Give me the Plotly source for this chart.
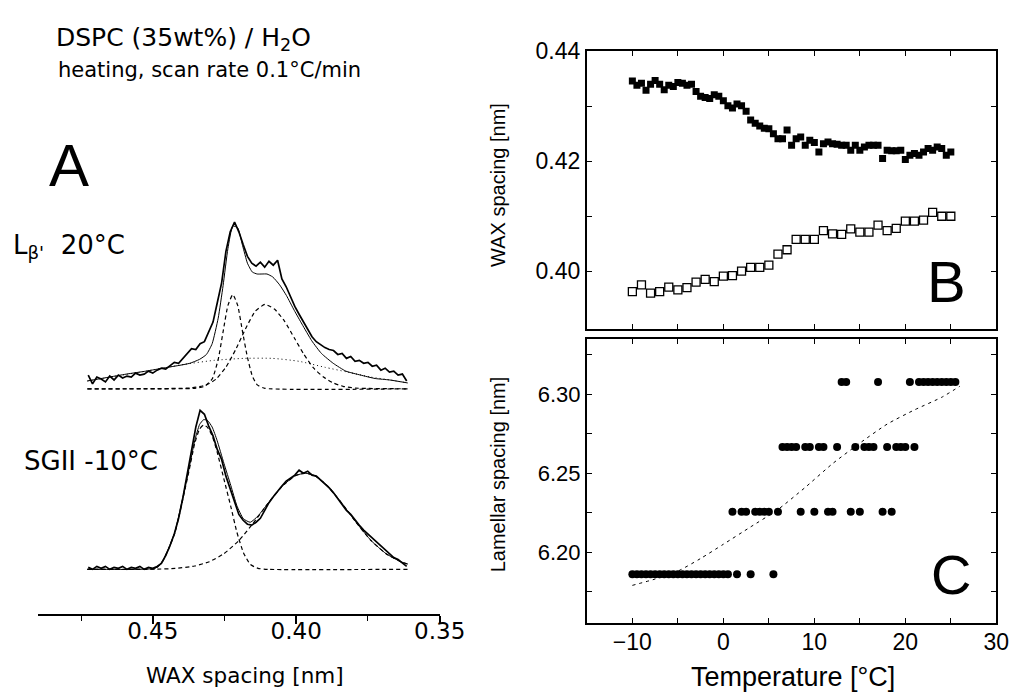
import plotly.graph_objects as go

W, H = 1035, 692

# ---------------- Panel A : WAX profiles (intensity in arbitrary units) ----------------
wax_nm = [0.4725, 0.4710, 0.4695, 0.4680, 0.4665, 0.4650, 0.4635, 0.4620, 0.4605, 0.4590,
          0.4575, 0.4560, 0.4545, 0.4530, 0.4515, 0.4500, 0.4485, 0.4470, 0.4455, 0.4440,
          0.4425, 0.4410, 0.4395, 0.4380, 0.4365, 0.4350, 0.4335, 0.4320, 0.4305, 0.4290,
          0.4275, 0.4260, 0.4245, 0.4230, 0.4215, 0.4200, 0.4185, 0.4170, 0.4155, 0.4140,
          0.4125, 0.4110, 0.4095, 0.4080, 0.4065, 0.4050, 0.4035, 0.4020, 0.4005, 0.3990,
          0.3975, 0.3960, 0.3945, 0.3930, 0.3915, 0.3900, 0.3885, 0.3870, 0.3855, 0.3840,
          0.3825, 0.3810, 0.3795, 0.3780, 0.3765, 0.3750, 0.3735, 0.3720, 0.3705, 0.3690,
          0.3675, 0.3660, 0.3645, 0.3630, 0.3615]

lbeta_counts = [14, 5, 12, 10, 7, 13, 9, 14, 11, 13,
                12, 16, 14, 15, 18, 16, 19, 21, 20, 24,
                27, 26, 31, 35, 41, 40, 46, 48, 58, 68,
                88, 108, 140, 160, 170, 160, 147, 135, 128, 125,
                129, 124, 130, 126, 131, 112, 104, 93, 84, 76,
                68, 61, 53, 48, 45, 42, 40, 39, 35, 36,
                31, 33, 28, 29, 26, 27, 23, 24, 19, 21,
                17, 18, 14, 15, 8]

sgii_counts = [2, 0, 3, 1, 3, 0, 2, 1, 3, 0,
               2, 1, 3, 0, 2, 1, 3, 6, 14, 24,
               36, 52, 73, 96, 120, 145, 162, 158, 146, 136,
               122, 112, 95, 82, 68, 56, 50, 46, 45, 48,
               52, 60, 68, 74, 80, 85, 90, 93, 96, 101,
               98, 100, 96, 95, 91, 88, 83, 78, 72, 66,
               60, 56, 50, 45, 40, 36, 32, 28, 24, 20,
               16, 12, 10, 6, 3]

# fitted envelope and components, L_beta' 20 C
lbeta_fit_nm = [0.4728, 0.4660, 0.4592, 0.4524, 0.4456, 0.4405, 0.4371, 0.4337, 0.4313, 0.4293,
                0.4272, 0.4255, 0.4238, 0.4221, 0.4204, 0.4187, 0.4170, 0.4153, 0.4136, 0.4119,
                0.4102, 0.4082, 0.4058, 0.4034, 0.4007, 0.3980, 0.3946, 0.3912, 0.3871, 0.3827,
                0.3776, 0.3725, 0.3674, 0.3612]
lbeta_fit = [8, 11.5, 15, 18, 21.5, 24, 26, 30, 35, 46,
             72, 105, 143, 166, 164, 146, 128, 119, 117, 117,
             117, 114, 106, 95, 80, 66, 49, 36, 26, 18,
             14, 10.5, 9, 6]

lbeta_narrow_nm = [0.4728, 0.4354, 0.4320, 0.4293, 0.4272, 0.4255, 0.4238, 0.4221, 0.4204,
                   0.4187, 0.4170, 0.4153, 0.4136, 0.4109, 0.3612]
lbeta_narrow = [0, 0.5, 2.5, 10, 30, 58, 85, 96, 85, 58, 32, 13, 4, 0.5, 0]

lbeta_broad_nm = [0.4728, 0.4364, 0.4313, 0.4279, 0.4245, 0.4211, 0.4177, 0.4143, 0.4109, 0.4075,
                  0.4041, 0.4007, 0.3973, 0.3939, 0.3905, 0.3871, 0.3837, 0.3793, 0.3612]
lbeta_broad = [0, 1, 4, 10, 22, 40, 61, 79, 86, 81, 69, 52, 35, 21, 12, 6, 2.5, 0.7, 0]

lbeta_bg_nm = [0.4728, 0.4626, 0.4524, 0.4388, 0.4286, 0.4184, 0.4082, 0.3990, 0.3901, 0.3820,
               0.3741, 0.3673, 0.3612]
lbeta_bg = [8, 13, 18, 25, 29, 31, 31, 28, 22, 17, 12, 9, 6]

# fitted envelope and components, SGII -10 C
sgii_fit_nm = [0.4728, 0.4558, 0.4490, 0.4466, 0.4446, 0.4422, 0.4398, 0.4374, 0.4354, 0.4337,
               0.4323, 0.4310, 0.4293, 0.4276, 0.4252, 0.4228, 0.4207, 0.4184, 0.4160, 0.4133,
               0.4099, 0.4048, 0.4003, 0.3969, 0.3935, 0.3891, 0.3840, 0.3789, 0.3738, 0.3687,
               0.3636, 0.3612]
sgii_fit = [0, 0, 1.2, 8.4, 20.6, 39, 69.5, 102, 131, 147.5,
            152.5, 152, 145, 131.5, 108, 85.5, 65, 51.5, 48, 54.5,
            67, 85, 95.5, 98, 95.5, 85, 67, 47, 29, 16,
            7.8, 5.4]

sgii_narrow_nm = [0.4728, 0.4524, 0.4490, 0.4466, 0.4446, 0.4422, 0.4398, 0.4374, 0.4354, 0.4337,
                  0.4323, 0.4310, 0.4293, 0.4276, 0.4252, 0.4228, 0.4207, 0.4184, 0.4160, 0.4133,
                  0.4099, 0.3612]
sgii_narrow = [0, 0, 1, 8, 20, 38, 68, 100, 128, 143,
               147, 145, 136, 120, 92, 64, 38, 17, 5, 1,
               0, 0]

sgii_broad_nm = [0.4728, 0.4558, 0.4490, 0.4422, 0.4354, 0.4303, 0.4252, 0.4201, 0.4150, 0.4099,
                 0.4048, 0.4003, 0.3969, 0.3935, 0.3891, 0.3840, 0.3789, 0.3738, 0.3687, 0.3636,
                 0.3612]
sgii_broad = [0, 0, 0.2, 0.9, 3.4, 7.8, 16, 29, 47, 67,
              85, 95.5, 98, 95.5, 85, 67, 47, 29, 16, 7.8,
              5.4]

wax_tick_vals = [0.45, 0.40, 0.35]
wax_minor_vals = [0.475, 0.425, 0.375]

# vertical stacking of the two profiles (a.u.)
LBETA_BASE = 230
SGII_BASE = 46

# ---------------- Panel B : WAX spacing vs temperature ----------------
temp_fine = [-10.0, -9.5, -9.0, -8.5, -8.0, -7.5, -7.0, -6.5, -6.0, -5.5,
             -5.0, -4.5, -4.0, -3.5, -3.0, -2.5, -2.0, -1.5, -1.0, -0.5,
             0.0, 0.5, 1.0, 1.5, 2.0, 2.5, 3.0, 3.5, 4.0, 4.5,
             5.0, 5.5, 6.0, 6.5, 7.0, 7.5, 8.0, 8.5, 9.0, 9.5,
             10.0, 10.5, 11.0, 11.5, 12.0, 12.5, 13.0, 13.5, 14.0, 14.5,
             15.0, 15.5, 16.0, 16.5, 17.0, 17.5, 18.0, 18.5, 19.0, 19.5,
             20.0, 20.5, 21.0, 21.5, 22.0, 22.5, 23.0, 23.5, 24.0, 24.5,
             25.0]
wax_high = [0.4346, 0.4338, 0.4342, 0.4329, 0.4340, 0.4347, 0.4340, 0.4330, 0.4338, 0.4336,
            0.4343, 0.4342, 0.4338, 0.4340, 0.4327, 0.4318, 0.4316, 0.4314, 0.4321, 0.4318,
            0.4310, 0.4301, 0.4297, 0.4304, 0.4301, 0.4291, 0.4275, 0.4269, 0.4264, 0.4260,
            0.4259, 0.4250, 0.4241, 0.4241, 0.4257, 0.4229, 0.4241, 0.4244, 0.4229, 0.4238,
            0.4234, 0.4217, 0.4232, 0.4235, 0.4232, 0.4231, 0.4229, 0.4229, 0.4220, 0.4229,
            0.4220, 0.4226, 0.4229, 0.4229, 0.4229, 0.4205, 0.4220, 0.4219, 0.4219, 0.4220,
            0.4203, 0.4211, 0.4214, 0.4211, 0.4217, 0.4223, 0.4220, 0.4226, 0.4223, 0.4211,
            0.4217]

temp_coarse = [-10, -9, -8, -7, -6, -5, -4, -3, -2, -1,
               0, 1, 2, 3, 4, 5, 6, 7, 8, 9,
               10, 11, 12, 13, 14, 15, 16, 17, 18, 19,
               20, 21, 22, 23, 24, 25]
wax_low = [0.3963, 0.3975, 0.3960, 0.3963, 0.3971, 0.3966, 0.3970, 0.3980, 0.3985, 0.3981,
           0.3991, 0.3992, 0.4000, 0.4007, 0.4007, 0.4011, 0.4031, 0.4039, 0.4058, 0.4058,
           0.4058, 0.4074, 0.4068, 0.4067, 0.4077, 0.4071, 0.4071, 0.4084, 0.4074, 0.4078,
           0.4091, 0.4091, 0.4093, 0.4107, 0.4100, 0.4100]

wax_y_ticks = [0.40, 0.42, 0.44]
wax_y_minor = [0.41, 0.43]

# ---------------- Panel C : lamellar spacing vs temperature ----------------
lam_T = [-10.0, -9.5, -9.0, -8.5, -8.0, -7.5, -7.0, -6.5, -6.0, -5.5,
         -5.0, -4.5, -4.0, -3.5, -3.0, -2.5, -2.0, -1.5, -1.0, -0.5,
         0.0, 0.5, 1.0, 1.5, 2.0, 2.5, 3.0, 3.5, 4.0, 4.5,
         5.0, 5.5, 6.0, 6.5, 7.0, 7.5, 8.0, 8.5, 9.0, 9.5,
         10.0, 10.5, 11.0, 11.5, 12.0, 12.5, 13.0, 13.5, 14.0, 14.5,
         15.0, 15.5, 16.0, 16.5, 17.0, 17.5, 18.0, 18.5, 19.0, 19.5,
         20.0, 20.5, 21.0, 21.5, 22.0, 22.5, 23.0, 23.5, 24.0, 24.5,
         25.0, 25.5]
lam_d = [6.186, 6.186, 6.186, 6.186, 6.186, 6.186, 6.186, 6.186, 6.186, 6.186,
         6.186, 6.186, 6.186, 6.186, 6.186, 6.186, 6.186, 6.186, 6.186, 6.186,
         6.186, 6.186, 6.2255, 6.186, 6.2255, 6.2255, 6.186, 6.2255, 6.2255, 6.2255,
         6.2255, 6.186, 6.2255, 6.2665, 6.2665, 6.2665, 6.2665, 6.2255, 6.2665, 6.2665,
         6.2255, 6.2665, 6.2665, 6.2255, 6.2255, 6.2665, 6.3077, 6.3077, 6.2255, 6.2665,
         6.2255, 6.2665, 6.2665, 6.2665, 6.3077, 6.2255, 6.2665, 6.2255, 6.2665, 6.2665,
         6.2665, 6.3077, 6.2665, 6.3077, 6.3077, 6.3077, 6.3077, 6.3077, 6.3077, 6.3077,
         6.3077, 6.3077]

lam_fit_T = [-10, -7.5, -5, -2.5, 0, 3, 6, 9, 12, 15, 18, 21, 24, 26]
lam_fit_d = [6.179, 6.183, 6.188, 6.196, 6.205, 6.216, 6.227, 6.241, 6.256, 6.269,
             6.281, 6.290, 6.298, 6.305]

temp_ticks = [-10, 0, 10, 20, 30]
temp_minor = [-5, 5, 15, 25]
lam_y_ticks = [6.20, 6.25, 6.30]
lam_y_minor = [6.175, 6.225, 6.275, 6.325]

# ---------------- figure ----------------
fig = go.Figure()

def up(vals, base):
    return [v + base for v in vals]

lw_data = 1.7
dash_comp = dict(color="black", width=1.2, dash="4px,3px", shape="spline", smoothing=0.5)
fit_line = dict(color="black", width=1, shape="spline", smoothing=0.5)

# Panel A traces
fig.add_trace(go.Scatter(x=lbeta_bg_nm, y=up(lbeta_bg, LBETA_BASE), mode="lines",
                         line=dict(color="black", width=1, dash="1px,3px", shape="spline", smoothing=0.6),
                         xaxis="x", yaxis="y"))
fig.add_trace(go.Scatter(x=lbeta_narrow_nm, y=up(lbeta_narrow, LBETA_BASE), mode="lines",
                         line=dash_comp, xaxis="x", yaxis="y"))
fig.add_trace(go.Scatter(x=lbeta_broad_nm, y=up(lbeta_broad, LBETA_BASE), mode="lines",
                         line=dash_comp, xaxis="x", yaxis="y"))
fig.add_trace(go.Scatter(x=lbeta_fit_nm, y=up(lbeta_fit, LBETA_BASE), mode="lines",
                         line=fit_line, xaxis="x", yaxis="y"))
fig.add_trace(go.Scatter(x=wax_nm, y=up(lbeta_counts, LBETA_BASE), mode="lines",
                         line=dict(color="black", width=lw_data), xaxis="x", yaxis="y"))

fig.add_trace(go.Scatter(x=sgii_narrow_nm, y=up(sgii_narrow, SGII_BASE), mode="lines",
                         line=dash_comp, xaxis="x", yaxis="y"))
fig.add_trace(go.Scatter(x=sgii_broad_nm, y=up(sgii_broad, SGII_BASE), mode="lines",
                         line=dash_comp, xaxis="x", yaxis="y"))
fig.add_trace(go.Scatter(x=sgii_fit_nm, y=up(sgii_fit, SGII_BASE), mode="lines",
                         line=fit_line, xaxis="x", yaxis="y"))
fig.add_trace(go.Scatter(x=wax_nm, y=up(sgii_counts, SGII_BASE), mode="lines",
                         line=dict(color="black", width=lw_data), xaxis="x", yaxis="y"))

# Panel B traces
fig.add_trace(go.Scatter(x=temp_fine, y=wax_high, mode="markers",
                         marker=dict(symbol="square", size=7, color="black"),
                         xaxis="x2", yaxis="y2"))
fig.add_trace(go.Scatter(x=temp_coarse, y=wax_low, mode="markers",
                         marker=dict(symbol="square-open", size=8, color="black", line=dict(width=1.3)),
                         xaxis="x2", yaxis="y2"))

# Panel C traces
fig.add_trace(go.Scatter(x=lam_fit_T, y=lam_fit_d, mode="lines",
                         line=dict(color="black", width=1, dash="3px,4px", shape="spline", smoothing=0.6),
                         xaxis="x3", yaxis="y3"))
fig.add_trace(go.Scatter(x=lam_T, y=lam_d, mode="markers",
                         marker=dict(symbol="circle", size=8, color="black"),
                         xaxis="x3", yaxis="y3"))

ARIAL = "Liberation Sans, Arial, Helvetica, sans-serif"
DEJAVU = "DejaVu Sans, Verdana, sans-serif"

frame = dict(showline=True, linecolor="black", linewidth=2, mirror="ticks",
             ticks="inside", ticklen=5, tickwidth=1.4, tickcolor="black",
             showgrid=False, zeroline=False)

def minor_ticks(vals):
    return dict(tickvals=vals, ticks="inside", ticklen=5, tickwidth=1.4, tickcolor="black",
                showgrid=False)

xB = [602 / W, 1022 / W]

fig.update_layout(
    width=W, height=H, margin=dict(l=0, r=0, t=0, b=0),
    paper_bgcolor="white", plot_bgcolor="white", showlegend=False,
    font=dict(family=ARIAL, color="black"),
    xaxis=dict(domain=[39 / W, 451 / W], range=[0.49, 0.35], anchor="y",
               showline=True, linecolor="black", linewidth=2, showgrid=False, zeroline=False,
               ticks="outside", ticklen=8, tickwidth=1.5, tickcolor="black",
               tickvals=wax_tick_vals, tickformat=".2f", ticklabelstandoff=-13,
               tickfont=dict(family=DEJAVU, size=23),
               minor=dict(tickvals=wax_minor_vals, ticks="outside", ticklen=5,
                          tickwidth=1.3, tickcolor="black")),
    yaxis=dict(domain=[1 - 613 / H, 1 - 187 / H], range=[0, 426], anchor="x", visible=False),
    xaxis2=dict(domain=xB, range=[-15, 30], anchor="y2", tickvals=temp_ticks,
                showticklabels=False, minor=minor_ticks(temp_minor), **frame),
    yaxis2=dict(domain=[1 - 322 / H, 1 - 39 / H], range=[0.3895, 0.44], anchor="x2",
                tickvals=wax_y_ticks, tickformat=".2f", minor=minor_ticks(wax_y_minor),
                tickfont=dict(size=23), **frame),
    xaxis3=dict(domain=xB, range=[-15, 30], anchor="y3", tickvals=temp_ticks,
                minor=minor_ticks(temp_minor), ticklabelstandoff=-3,
                tickfont=dict(size=23), **frame),
    yaxis3=dict(domain=[1 - 622 / H, 1 - 332 / H], range=[6.155, 6.335], anchor="x3",
                tickvals=lam_y_ticks, tickformat=".2f", minor=minor_ticks(lam_y_minor),
                tickfont=dict(size=22), **frame),
)

def ann(text, x, y, size, family=ARIAL, xanchor="center", yanchor="middle", angle=0):
    fig.add_annotation(text=text, x=x / W, y=1 - y / H, xref="paper", yref="paper",
                       showarrow=False, xanchor=xanchor, yanchor=yanchor, textangle=angle,
                       font=dict(family=family, size=size, color="black"))

ann("DSPC (35wt%) / H<sub>2</sub>O", 55, 27, 25, DEJAVU, xanchor="left")
ann("heating, scan rate 0.1°C/min", 57, 58, 21, DEJAVU, xanchor="left")
ann("A", 71, 155, 60)
ann("L<sub>β'</sub>  20°C", 11, 238, 26, DEJAVU, xanchor="left")
ann("SGII -10°C", 23, 457, 26, DEJAVU, xanchor="left")
ann("WAX spacing [nm]", 251, 675, 21.5, DEJAVU)
ann("B", 971, 274, 58)
ann("C", 975, 572, 56)
ann("Temperature [°C]", 813, 677, 27)
ann("WAX spacing [nm]", 511, 175, 20, angle=-90)
ann("Lamellar spacing [nm]", 511, 470, 20, angle=-90)

fig.write_html("out.html")
